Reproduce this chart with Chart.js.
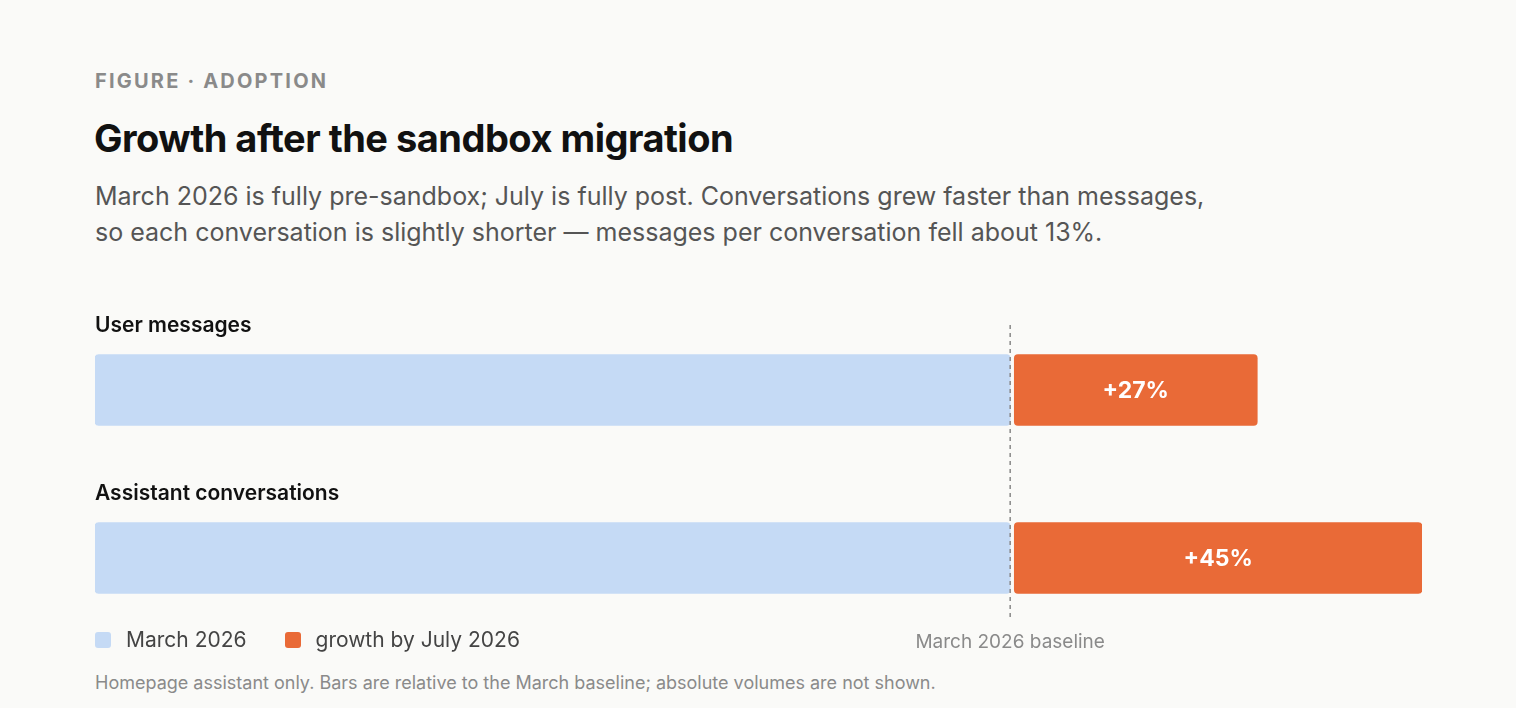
<!DOCTYPE html>
<html>
<head>
<meta charset="utf-8">
<script src="https://cdn.jsdelivr.net/npm/chart.js@4"></script>
<style>
  body { margin: 0; background: #fafaf8; font-family: Inter, "Noto Sans", sans-serif; width: 1516px; height: 708px; position: relative; overflow: hidden; }
  .abs { position: absolute; }
  #eyebrow { left: 95px; top: 69px; font-size: 20px; font-weight: 700; letter-spacing: 2.2px; color: #8a8a8a; }
  #title { left: 94px; top: 115px; font-size: 38px; font-weight: 700; color: #111; letter-spacing: -0.5px; }
  #sub { left: 95px; top: 178px; font-size: 25px; line-height: 36px; color: #555; width: 1200px; }
  #wrap { left: 95px; top: 300px; width: 1327px; height: 360px; }
  #legend { left: 95px; top: 627px; font-size: 21px; color: #444; display: flex; gap: 38px; }
  #legend span.sw { display: inline-block; width: 16px; height: 16px; border-radius: 3px; margin-right: 15px; vertical-align: -1px; }
  #foot { left: 95px; top: 672px; font-size: 18px; color: #8a8a8a; }
</style>
</head>
<body>
<div class="abs" id="eyebrow">FIGURE · ADOPTION</div>
<div class="abs" id="title">Growth after the sandbox migration</div>
<div class="abs" id="sub">March 2026 is fully pre-sandbox; July is fully post. Conversations grew faster than messages,<br>so each conversation is slightly shorter — messages per conversation fell about 13%.</div>
<div class="abs" id="wrap"><canvas id="c"></canvas></div>
<div class="abs" id="legend">
  <div><span class="sw" style="background:#c5daf5"></span>March 2026</div>
  <div><span class="sw" style="background:#e96a37"></span>growth by July 2026</div>
</div>
<div class="abs" id="foot">Homepage assistant only. Bars are relative to the March baseline; absolute volumes are not shown.</div>
<script>
const categories = ["User messages", "Assistant conversations"];
const baseline = [100, 100];
const growth = [27, 45];
const gap = 0.45;

const blue = "#c5daf5";
const orange = "#e96a37";

const overlay = {
    id: "overlay",
    afterDatasetsDraw(chart) {
        const ctx = chart.ctx;
        const x = chart.scales.x, y = chart.scales.y;
        ctx.save();
        // category labels above bars
        ctx.font = "600 21px Inter, sans-serif";
        ctx.fillStyle = "#111";
        ctx.textBaseline = "middle";
        ctx.textAlign = "left";
        categories.forEach((c, i) => {
            ctx.fillText(c, 0, y.getPixelForValue(i) - 64);
        });
        // growth labels
        ctx.font = "700 23px Inter, sans-serif";
        ctx.fillStyle = "#fff";
        ctx.textAlign = "center";
        growth.forEach((g, i) => {
            const cx = (x.getPixelForValue(100 + gap) + x.getPixelForValue(100 + g)) / 2;
            ctx.fillText("+" + g + "%", cx, y.getPixelForValue(i) + 1);
        });
        // baseline dashed line
        const bx = x.getPixelForValue(100);
        ctx.strokeStyle = "#888";
        ctx.lineWidth = 1.5;
        ctx.setLineDash([4, 4]);
        ctx.beginPath();
        ctx.moveTo(bx, 25);
        ctx.lineTo(bx, 320);
        ctx.stroke();
        ctx.setLineDash([]);
        ctx.font = "19px Inter, sans-serif";
        ctx.fillStyle = "#8a8a8a";
        ctx.fillText("March 2026 baseline", bx, 342);
        ctx.restore();
    }
};

new Chart(document.getElementById("c"), {
    type: "bar",
    data: {
        labels: categories,
        datasets: [
            { label: "March 2026", data: baseline.map(b => [0, b]), backgroundColor: blue, borderRadius: 4, borderSkipped: false },
            { label: "growth by July 2026", data: growth.map((g, i) => [baseline[i] + gap, baseline[i] + g]), backgroundColor: orange, borderRadius: 4, borderSkipped: false }
        ]
    },
    options: {
        indexAxis: "y",
        responsive: true,
        maintainAspectRatio: false,
        animation: false,
        layout: { padding: { top: 6, bottom: 18, left: 0, right: 0 } },
        datasets: { bar: { barThickness: 71, grouped: false } },
        plugins: { legend: { display: false }, tooltip: { enabled: false } },
        scales: {
            x: { min: 0, max: 145, display: false },
            y: { display: false }
        }
    },
    plugins: [overlay]
});
</script>
</body>
</html>
